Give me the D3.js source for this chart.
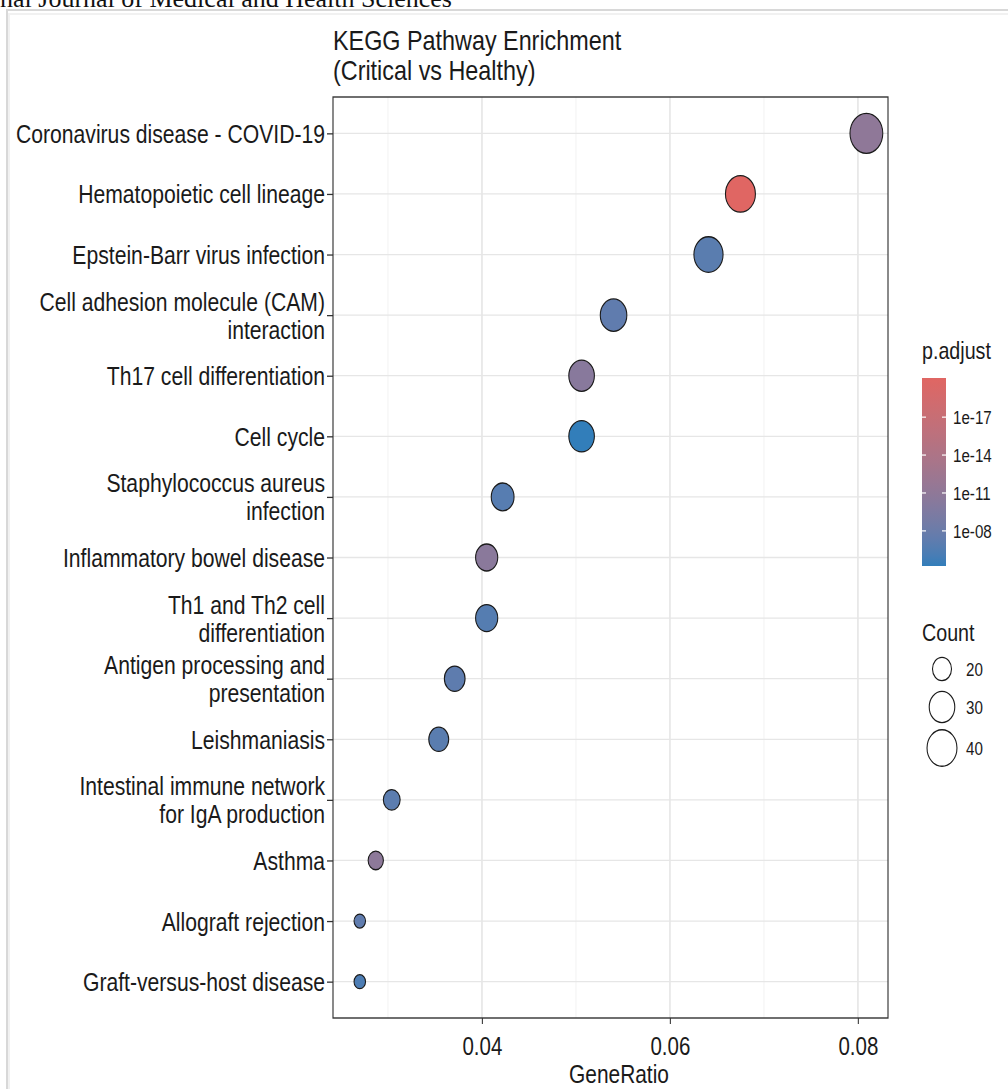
<!DOCTYPE html>
<html><head><meta charset="utf-8">
<script src="https://cdn.jsdelivr.net/npm/d3@7"></script>
<style>body{margin:0;background:#fff;overflow:hidden}</style>
</head><body>
<svg id="c" width="1008" height="1089"></svg>
<script>
// ---------- data ----------
const categories = [
  "Coronavirus disease - COVID-19",
  "Hematopoietic cell lineage",
  "Epstein-Barr virus infection",
  "Cell adhesion molecule (CAM)\ninteraction",
  "Th17 cell differentiation",
  "Cell cycle",
  "Staphylococcus aureus\ninfection",
  "Inflammatory bowel disease",
  "Th1 and Th2 cell\ndifferentiation",
  "Antigen processing and\npresentation",
  "Leishmaniasis",
  "Intestinal immune network\nfor IgA production",
  "Asthma",
  "Allograft rejection",
  "Graft-versus-host disease"
];
const geneRatio = [0.0809, 0.0675, 0.0641, 0.0540, 0.0506, 0.0506, 0.0422, 0.0405, 0.0405, 0.0371, 0.0354, 0.0304, 0.0287, 0.0270, 0.0270];
const counts    = [48, 40, 38, 32, 30, 30, 25, 24, 24, 22, 21, 18, 17, 16, 16];
const pAdjust   = [1e-11, 8e-21, 1e-7, 5e-8, 5e-11, 6e-6, 1.6e-7, 3e-11, 2e-7, 6e-8, 1e-7, 8e-8, 1.6e-11, 5e-8, 5e-7];
const xTicks = [0.04, 0.06, 0.08];
const xMinorTicks = [0.03, 0.05, 0.07];
const colorTicks = [1e-17, 1e-14, 1e-11, 1e-8];
const colorTickLabels = ["1e-17", "1e-14", "1e-11", "1e-08"];
const sizeBreaks = [20, 30, 40];

// ---------- layout (image pixels) ----------
const SX = 0.82;                // horizontal squash of the original picture
const px = v => v / SX;         // image px -> group coords
const P = {left: 333, right: 888, top: 97, bottom: 1018};
const FONT = "'Liberation Sans', Arial, Helvetica, sans-serif";

const svg = d3.select("#c");
// page header + frame
svg.append("text").attr("x", 0).attr("y", 7)
  .attr("font-family", "'Liberation Serif','Times New Roman',serif")
  .attr("font-size", 26).attr("fill", "#111")
  .text("nal Journal of Medical and Health Sciences");
svg.append("rect").attr("x", 7).attr("y", 10).attr("width", 1010).attr("height", 1100)
  .attr("fill", "none").attr("stroke", "#d8d8d8").attr("stroke-width", 2);
svg.append("rect").attr("x", 9).attr("y", 14).attr("width", 1010).attr("height", 1100)
  .attr("fill", "none").attr("stroke", "#f1f1f1").attr("stroke-width", 2);

const g = svg.append("g").attr("transform", `scale(${SX},1)`).attr("font-family", FONT);

// ---------- scales ----------
const x = d3.scaleLinear().domain([0.02415, 0.0832]).range([px(P.left), px(P.right)]);
const y = d3.scalePoint().domain(categories).range([P.top, P.bottom]).padding(0.6);
const pExt = d3.extent(pAdjust);
const color = d3.scaleLog().domain(pExt).range(["#e06663", "#327eba"]).interpolate(d3.interpolateLab);
const cExt = d3.extent(counts);
const t01 = d3.scaleLinear().domain(cExt).range([0, 1]);
const rad = d3.scaleLinear().domain([0, 1]).range([7, 20]);
const r = c => rad(Math.sqrt(Math.max(0, t01(c))));

// ---------- grid ----------
const grid = g.append("g");
grid.selectAll(".minor").data(xMinorTicks).join("line")
  .attr("x1", d => x(d)).attr("x2", d => x(d)).attr("y1", P.top).attr("y2", P.bottom)
  .attr("stroke", "#f2f2f2").attr("stroke-width", 1.2);
grid.selectAll(".major").data(xTicks).join("line")
  .attr("x1", d => x(d)).attr("x2", d => x(d)).attr("y1", P.top).attr("y2", P.bottom)
  .attr("stroke", "#e6e6e6").attr("stroke-width", 2);
grid.selectAll(".hy").data(categories).join("line")
  .attr("x1", px(P.left)).attr("x2", px(P.right)).attr("y1", d => y(d)).attr("y2", d => y(d))
  .attr("stroke", "#e6e6e6").attr("stroke-width", 1.3);

// ---------- axes ----------
const xAxis = g.append("g").attr("transform", `translate(0,${P.bottom})`)
  .call(d3.axisBottom(x).tickValues(xTicks).tickFormat(d3.format(".2f")).tickSize(6).tickPadding(10));
xAxis.select(".domain").remove();
xAxis.selectAll(".tick line").attr("stroke", "#333").attr("stroke-width", 1.3);
xAxis.selectAll(".tick text").attr("font-size", 25).attr("font-family", FONT).attr("fill", "#1a1a1a")
  .attr("dy", null).attr("y", 37);

const yAxis = g.append("g").attr("transform", `translate(${px(P.left)},0)`)
  .call(d3.axisLeft(y).tickSize(px(6)).tickPadding(px(2)));
yAxis.select(".domain").remove();
yAxis.selectAll(".tick line").attr("stroke", "#333").attr("stroke-width", 1.3);
yAxis.selectAll(".tick text").each(function(d) {
  const lines = d.split("\n");
  const t = d3.select(this).text(null).attr("font-size", 25.8).attr("font-family", FONT)
    .attr("fill", "#1a1a1a").attr("dy", null).attr("y", 0);
  const lh = 28;
  lines.forEach((ln, i) => {
    t.append("tspan").attr("x", -px(8)).attr("y", (i - (lines.length - 1) / 2) * lh + 9).text(ln);
  });
});

// panel border
g.append("rect").attr("x", px(P.left)).attr("y", P.top)
  .attr("width", px(P.right) - px(P.left)).attr("height", P.bottom - P.top)
  .attr("fill", "none").attr("stroke", "#333").attr("stroke-width", 1.4);

// ---------- points ----------
const pts = categories.map((c, i) => ({c, gr: geneRatio[i], n: counts[i], p: pAdjust[i]}));
g.append("g").selectAll("circle").data(pts).join("circle")
  .attr("cx", d => x(d.gr)).attr("cy", d => y(d.c)).attr("r", d => r(d.n))
  .attr("fill", d => color(d.p)).attr("stroke", "#1a1a1a").attr("stroke-width", 1.3);

// ---------- title ----------
const title = g.append("text").attr("x", px(P.left)).attr("font-size", 28.5).attr("fill", "#1a1a1a");
title.append("tspan").attr("x", px(P.left)).attr("y", 50).text("KEGG Pathway Enrichment");
title.append("tspan").attr("x", px(P.left)).attr("y", 80).text("(Critical vs Healthy)");

// x axis title
g.append("text").attr("x", px(619)).attr("y", 1083).attr("text-anchor", "middle")
  .attr("font-size", 25.5).attr("fill", "#1a1a1a").text("GeneRatio");

// ---------- colour legend ----------
const L = {x: 922, barW: 24, barTop: 378, barBot: 566};
g.append("text").attr("x", px(L.x)).attr("y", 359).attr("font-size", 24).attr("fill", "#1a1a1a").text("p.adjust");
const cy = d3.scaleLog().domain(pExt).range([L.barTop, L.barBot]);
const defs = svg.append("defs");
const grad = defs.append("linearGradient").attr("id", "pg").attr("x1", 0).attr("x2", 0).attr("y1", 0).attr("y2", 1);
d3.range(0, 1.0001, 0.05).forEach(f => {
  const p = cy.invert(L.barTop + f * (L.barBot - L.barTop));
  grad.append("stop").attr("offset", f).attr("stop-color", color(p));
});
g.append("rect").attr("x", px(L.x)).attr("y", L.barTop).attr("width", px(L.barW))
  .attr("height", L.barBot - L.barTop).attr("fill", "url(#pg)");
const ct = g.append("g");
colorTicks.forEach((v, i) => {
  const yy = cy(v);
  ct.append("line").attr("x1", px(L.x)).attr("x2", px(L.x + 4)).attr("y1", yy).attr("y2", yy)
    .attr("stroke", "#fff").attr("stroke-width", 1.2);
  ct.append("line").attr("x1", px(L.x + L.barW - 4)).attr("x2", px(L.x + L.barW)).attr("y1", yy).attr("y2", yy)
    .attr("stroke", "#fff").attr("stroke-width", 1.2);
  ct.append("text").attr("x", px(L.x + L.barW + 7)).attr("y", yy + 7)
    .attr("font-size", 18.5).attr("fill", "#1a1a1a").text(colorTickLabels[i]);
});

// ---------- size legend ----------
g.append("text").attr("x", px(L.x)).attr("y", 641).attr("font-size", 24).attr("fill", "#1a1a1a").text("Count");
const sizeY = [669, 707, 748];
sizeBreaks.forEach((b, i) => {
  g.append("circle").attr("cx", px(942)).attr("cy", sizeY[i]).attr("r", r(b))
    .attr("fill", "#fff").attr("stroke", "#1a1a1a").attr("stroke-width", 1.3);
  g.append("text").attr("x", px(966)).attr("y", sizeY[i] + 7).attr("font-size", 18.5)
    .attr("fill", "#1a1a1a").text(b);
});
</script>
</body></html>
